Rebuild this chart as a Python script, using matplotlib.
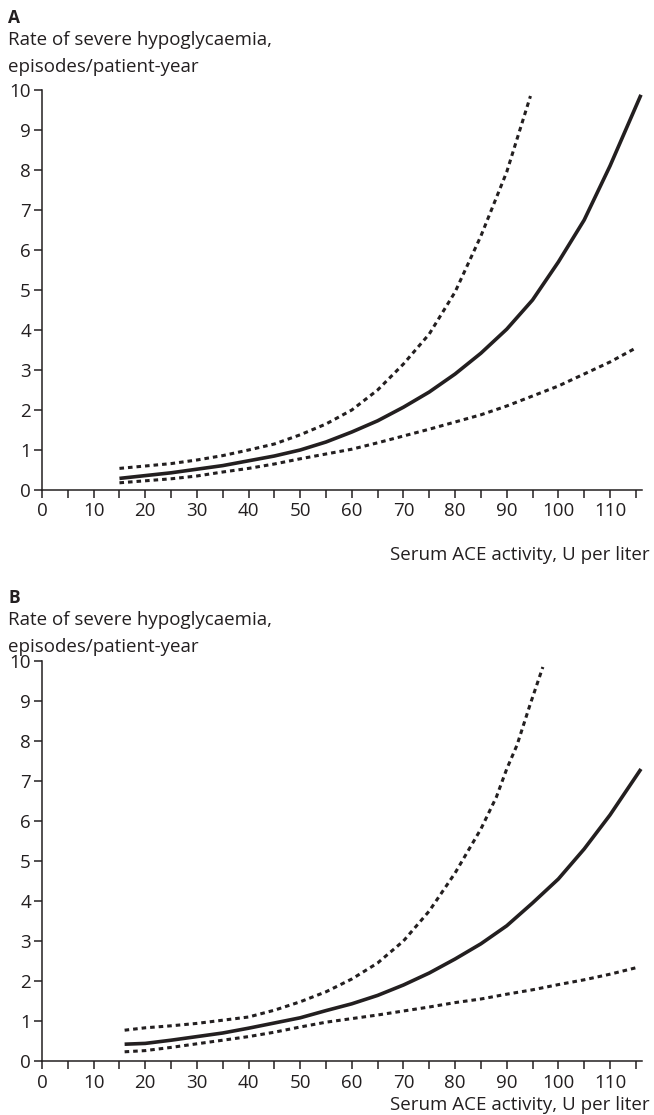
import numpy as np
import matplotlib.pyplot as plt

# Panel A
a_x_mid = [15, 20, 25, 30, 35, 40, 45, 50, 55, 60, 65, 70, 75, 80, 85, 90, 95, 100, 105, 110, 116]
a_mid = [0.29, 0.36, 0.43, 0.52, 0.61, 0.73, 0.85, 1.0, 1.2, 1.45, 1.73, 2.07, 2.45, 2.9, 3.42, 4.02, 4.75, 5.7, 6.75, 8.1, 9.88]
a_x_up = [15, 20, 25, 30, 35, 40, 45, 50, 55, 60, 65, 70, 75, 80, 85, 90, 94.6]
a_up = [0.54, 0.6, 0.66, 0.75, 0.86, 1.0, 1.15, 1.38, 1.65, 2.0, 2.5, 3.15, 3.9, 4.95, 6.35, 7.95, 9.85]
a_x_lo = [15, 20, 25, 30, 35, 40, 45, 50, 55, 60, 65, 70, 75, 80, 85, 90, 95, 100, 105, 110, 115]
a_lo = [0.18, 0.23, 0.28, 0.35, 0.45, 0.54, 0.65, 0.78, 0.9, 1.02, 1.18, 1.35, 1.52, 1.7, 1.88, 2.1, 2.35, 2.6, 2.9, 3.2, 3.55]

# Panel B
b_x_mid = [16, 20, 25, 30, 35, 40, 45, 50, 55, 60, 65, 70, 75, 80, 85, 90, 95, 100, 105, 110, 116]
b_mid = [0.42, 0.44, 0.52, 0.61, 0.7, 0.82, 0.95, 1.08, 1.26, 1.43, 1.64, 1.9, 2.2, 2.55, 2.93, 3.38, 3.95, 4.55, 5.3, 6.15, 7.3]
b_x_up = [16, 20, 25, 30, 35, 40, 45, 50, 55, 60, 65, 70, 75, 80, 85, 88, 90, 92, 94.5, 97]
b_up = [0.77, 0.83, 0.88, 0.94, 1.02, 1.1, 1.27, 1.48, 1.73, 2.05, 2.45, 3.0, 3.75, 4.7, 5.8, 6.6, 7.3, 7.9, 8.9, 9.85]
b_x_lo = [16, 20, 25, 30, 35, 40, 45, 50, 55, 60, 65, 70, 75, 80, 85, 90, 95, 100, 105, 110, 115]
b_lo = [0.23, 0.26, 0.34, 0.43, 0.52, 0.61, 0.72, 0.85, 0.97, 1.06, 1.15, 1.25, 1.35, 1.46, 1.55, 1.67, 1.78, 1.91, 2.03, 2.17, 2.33]

ylabel = ['Rate of severe hypoglycaemia,', 'episodes/patient-year']
xlabel = 'Serum ACE activity, U per liter'
ink = '#231f20'
fs = 13.5

plt.rcParams['font.family'] = ['Open Sans', 'DejaVu Sans']
fig = plt.figure(figsize=(6.54, 11.15), dpi=100)

# letter, axes rect, data, y of letter, offset of x label below axis (px)
panels = [
    ('A', [42/654, 625/1115, 600/654, 400/1115], a_x_mid, a_mid, a_x_up, a_up, a_x_lo, a_lo, 18, 65),
    ('B', [42/654, 54/1115, 600/654, 400/1115], b_x_mid, b_mid, b_x_up, b_up, b_x_lo, b_lo, 598, 44),
]

for letter, rect, xm, ym, xu, yu, xl, yl, ytop, xoff in panels:
    ax = fig.add_axes(rect)
    ax.plot(xm, ym, color=ink, lw=2.6, solid_capstyle='butt', clip_on=False)
    for xs, ys in [(xu, yu), (xl, yl)]:
        ax.plot(xs, ys, color=ink, lw=2.2, dashes=(1.5, 1.3), clip_on=False)
    ax.set_xlim(0, 116.2)
    ax.set_ylim(0, 10)
    ax.set_xticks(range(0, 111, 10))
    ax.set_xticks(range(5, 116, 10), minor=True)
    ax.set_yticks(range(0, 11))
    for s in ['top', 'right']:
        ax.spines[s].set_visible(False)
    for s in ['left', 'bottom']:
        ax.spines[s].set_color(ink)
        ax.spines[s].set_linewidth(1.1)
    ax.tick_params(which='both', direction='out', length=6, width=1.1, color=ink,
                   labelcolor=ink, labelsize=fs)
    ax.tick_params(axis='x', pad=3)
    ax.tick_params(axis='y', pad=2)

    y0 = 1 - ytop / 1115
    fig.text(8/654, y0, letter, fontsize=fs - 1, fontweight='bold', color=ink, va='center')
    fig.text(8/654, y0 - 22/1115, ylabel[0], fontsize=fs, color=ink, va='center')
    fig.text(8/654, y0 - 49/1115, ylabel[1], fontsize=fs, color=ink, va='center')
    fig.text(650/654, rect[1] - xoff/1115, xlabel, fontsize=fs, color=ink, ha='right', va='center')

fig.savefig('out.png', dpi=100)
